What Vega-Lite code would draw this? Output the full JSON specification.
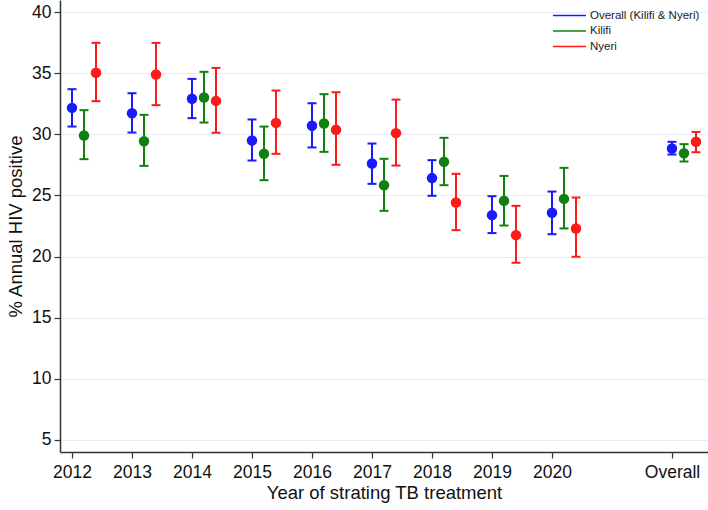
{
  "$schema": "https://vega.github.io/schema/vega-lite/v6.json",
  "width": 648,
  "height": 452,
  "autosize": {"type": "none"},
  "padding": {"left": 60, "top": 0, "right": 0, "bottom": 58},
  "background": "white",
  "config": {
    "view": {"stroke": null},
    "font": "Liberation Sans",
    "axis": {
      "domainColor": "#333333",
      "domainWidth": 1.5,
      "tickColor": "#333333",
      "tickWidth": 1.2,
      "tickSize": 6,
      "labelFont": "Liberation Sans",
      "labelFontSize": 17.5,
      "labelColor": "#111111",
      "titleFont": "Liberation Sans",
      "titleFontSize": 18.5,
      "titleFontWeight": "normal",
      "titleColor": "#111111",
      "gridColor": "#e6eef2",
      "gridWidth": 1.2
    },
    "legend": {
      "symbolType": "M-3,0H3",
      "symbolSize": 121,
      "symbolStrokeWidth": 1.6,
      "labelFont": "Liberation Sans",
      "labelFontSize": 11.5,
      "labelColor": "#222222",
      "labelOffset": 14,
      "rowPadding": 3.5
    }
  },
  "data": {
    "values": [
      {"year": 2012, "series": "Overall (Kilifi & Nyeri)", "val": 32.17, "lo": 30.64, "hi": 33.70},
      {"year": 2012, "series": "Kilifi", "val": 29.91, "lo": 27.97, "hi": 31.98},
      {"year": 2012, "series": "Nyeri", "val": 35.04, "lo": 32.72, "hi": 37.49},
      {"year": 2013, "series": "Overall (Kilifi & Nyeri)", "val": 31.73, "lo": 30.15, "hi": 33.37},
      {"year": 2013, "series": "Kilifi", "val": 29.44, "lo": 27.42, "hi": 31.60},
      {"year": 2013, "series": "Nyeri", "val": 34.90, "lo": 32.39, "hi": 37.49},
      {"year": 2014, "series": "Overall (Kilifi & Nyeri)", "val": 32.91, "lo": 31.33, "hi": 34.54},
      {"year": 2014, "series": "Kilifi", "val": 33.02, "lo": 30.97, "hi": 35.12},
      {"year": 2014, "series": "Nyeri", "val": 32.74, "lo": 30.13, "hi": 35.44},
      {"year": 2015, "series": "Overall (Kilifi & Nyeri)", "val": 29.50, "lo": 27.86, "hi": 31.22},
      {"year": 2015, "series": "Kilifi", "val": 28.41, "lo": 26.25, "hi": 30.64},
      {"year": 2015, "series": "Nyeri", "val": 30.94, "lo": 28.41, "hi": 33.59},
      {"year": 2016, "series": "Overall (Kilifi & Nyeri)", "val": 30.70, "lo": 28.93, "hi": 32.55},
      {"year": 2016, "series": "Kilifi", "val": 30.89, "lo": 28.57, "hi": 33.29},
      {"year": 2016, "series": "Nyeri", "val": 30.37, "lo": 27.51, "hi": 33.45},
      {"year": 2017, "series": "Overall (Kilifi & Nyeri)", "val": 27.62, "lo": 25.95, "hi": 29.25},
      {"year": 2017, "series": "Kilifi", "val": 25.84, "lo": 23.74, "hi": 28.00},
      {"year": 2017, "series": "Nyeri", "val": 30.10, "lo": 27.45, "hi": 32.85},
      {"year": 2018, "series": "Overall (Kilifi & Nyeri)", "val": 26.42, "lo": 24.97, "hi": 27.89},
      {"year": 2018, "series": "Kilifi", "val": 27.75, "lo": 25.84, "hi": 29.72},
      {"year": 2018, "series": "Nyeri", "val": 24.43, "lo": 22.16, "hi": 26.77},
      {"year": 2019, "series": "Overall (Kilifi & Nyeri)", "val": 23.39, "lo": 21.92, "hi": 24.94},
      {"year": 2019, "series": "Kilifi", "val": 24.56, "lo": 22.54, "hi": 26.60},
      {"year": 2019, "series": "Nyeri", "val": 21.75, "lo": 19.49, "hi": 24.15},
      {"year": 2020, "series": "Overall (Kilifi & Nyeri)", "val": 23.58, "lo": 21.83, "hi": 25.32},
      {"year": 2020, "series": "Kilifi", "val": 24.72, "lo": 22.30, "hi": 27.26},
      {"year": 2020, "series": "Nyeri", "val": 22.30, "lo": 19.98, "hi": 24.83},
      {"year": 2022, "series": "Overall (Kilifi & Nyeri)", "val": 28.84, "lo": 28.35, "hi": 29.39},
      {"year": 2022, "series": "Kilifi", "val": 28.46, "lo": 27.78, "hi": 29.20},
      {"year": 2022, "series": "Nyeri", "val": 29.39, "lo": 28.54, "hi": 30.20}
    ]
  },
  "encoding": {
    "x": {
      "field": "year",
      "type": "quantitative",
      "scale": {"domain": [2011.8, 2022.6], "nice": false, "zero": false},
      "axis": {
        "values": [2012, 2013, 2014, 2015, 2016, 2017, 2018, 2019, 2020, 2022],
        "labelExpr": "datum.value == 2022 ? 'Overall' : format(datum.value, 'd')",
        "grid": false,
        "labelPadding": 5,
        "titlePadding": 3
      },
      "title": "Year of strating TB treatment"
    },
    "color": {
      "field": "series",
      "type": "nominal",
      "scale": {
        "domain": ["Overall (Kilifi & Nyeri)", "Kilifi", "Nyeri"],
        "range": ["#1a1aff", "#118011", "#ff1a1a"]
      },
      "legend": {"title": null, "orient": "none", "legendX": 503, "legendY": 9}
    }
  },
  "layer": [
    {
      "transform": [{"filter": "datum.series === 'Overall (Kilifi & Nyeri)'"}],
      "layer": [
        {"mark": {"type": "rule", "xOffset": 0, "strokeWidth": 2},
         "encoding": {
           "y": {"field": "lo", "type": "quantitative", "scale": {"domain": [4, 41], "nice": false, "zero": false},
                 "title": "% Annual HIV positive",
                 "axis": {"values": [5, 10, 15, 20, 25, 30, 35, 40], "grid": true, "labelPadding": 3, "titlePadding": 6}},
           "y2": {"field": "hi"}}},
        {"mark": {"type": "tick", "xOffset": 0, "orient": "horizontal", "size": 9, "thickness": 2, "opacity": 1},
         "encoding": {"y": {"field": "lo", "type": "quantitative", "title": "% Annual HIV positive"}}},
        {"mark": {"type": "tick", "xOffset": 0, "orient": "horizontal", "size": 9, "thickness": 2, "opacity": 1},
         "encoding": {"y": {"field": "hi", "type": "quantitative", "title": "% Annual HIV positive"}}},
        {"mark": {"type": "circle", "xOffset": 0, "size": 110, "opacity": 1},
         "encoding": {"y": {"field": "val", "type": "quantitative", "title": "% Annual HIV positive"}}}
      ]
    },
    {
      "transform": [{"filter": "datum.series === 'Kilifi'"}],
      "layer": [
        {"mark": {"type": "rule", "xOffset": 12, "strokeWidth": 2},
         "encoding": {"y": {"field": "lo", "type": "quantitative", "title": "% Annual HIV positive"}, "y2": {"field": "hi"}}},
        {"mark": {"type": "tick", "xOffset": 12, "orient": "horizontal", "size": 9, "thickness": 2, "opacity": 1},
         "encoding": {"y": {"field": "lo", "type": "quantitative", "title": "% Annual HIV positive"}}},
        {"mark": {"type": "tick", "xOffset": 12, "orient": "horizontal", "size": 9, "thickness": 2, "opacity": 1},
         "encoding": {"y": {"field": "hi", "type": "quantitative", "title": "% Annual HIV positive"}}},
        {"mark": {"type": "circle", "xOffset": 12, "size": 110, "opacity": 1},
         "encoding": {"y": {"field": "val", "type": "quantitative", "title": "% Annual HIV positive"}}}
      ]
    },
    {
      "transform": [{"filter": "datum.series === 'Nyeri'"}],
      "layer": [
        {"mark": {"type": "rule", "xOffset": 24, "strokeWidth": 2},
         "encoding": {"y": {"field": "lo", "type": "quantitative", "title": "% Annual HIV positive"}, "y2": {"field": "hi"}}},
        {"mark": {"type": "tick", "xOffset": 24, "orient": "horizontal", "size": 9, "thickness": 2, "opacity": 1},
         "encoding": {"y": {"field": "lo", "type": "quantitative", "title": "% Annual HIV positive"}}},
        {"mark": {"type": "tick", "xOffset": 24, "orient": "horizontal", "size": 9, "thickness": 2, "opacity": 1},
         "encoding": {"y": {"field": "hi", "type": "quantitative", "title": "% Annual HIV positive"}}},
        {"mark": {"type": "circle", "xOffset": 24, "size": 110, "opacity": 1},
         "encoding": {"y": {"field": "val", "type": "quantitative", "title": "% Annual HIV positive"}}}
      ]
    }
  ]
}
